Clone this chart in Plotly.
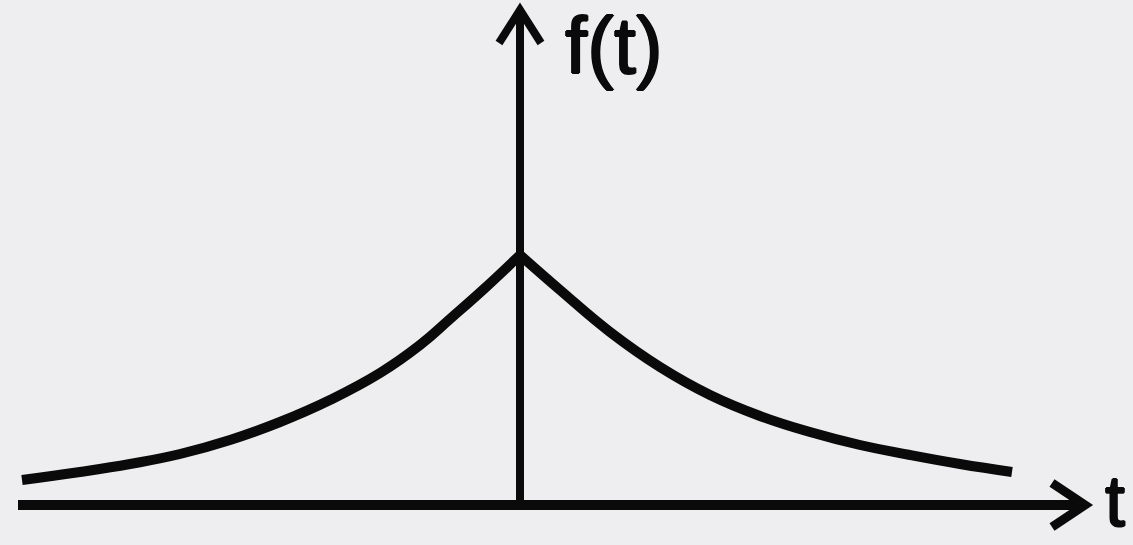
import plotly.graph_objects as go

# Data (t in arbitrary units, f(t) in arbitrary units)
t_left = [-4.98, -4.4, -3.9, -3.4, -2.9, -2.4, -1.9, -1.4, -1.0, -0.7, -0.35, 0.0]
f_left = [0.25, 0.33, 0.41, 0.51, 0.65, 0.83, 1.05, 1.32, 1.60, 1.86, 2.17, 2.50]
t_right = [0.0, 0.4, 0.9, 1.4, 1.9, 2.4, 2.9, 3.4, 3.9, 4.4, 4.92]
f_right = [2.50, 2.15, 1.73, 1.38, 1.10, 0.89, 0.73, 0.60, 0.50, 0.41, 0.33]

x_label = "t"
y_label = "f(t)"

BG = "#eeeef0"
INK = "#0a0a0a"
FONT = "Liberation Sans, Arial, sans-serif"
THICK = "0.9px 0 0 #0a0a0a, -0.9px 0 0 #0a0a0a, 0 0.9px 0 #0a0a0a, 0 -0.9px 0 #0a0a0a"

fig = go.Figure()
for tt, ff in ((t_left, f_left), (t_right, f_right)):
    fig.add_trace(go.Scatter(x=tt, y=ff, mode="lines",
                             line=dict(color=INK, width=10, shape="spline", smoothing=1.3,
                                       simplify=False),
                             hoverinfo="skip", showlegend=False))

# axis extents
x_start, x_tip = -5.02, 5.65
y_tip = 4.95
head_len_x, head_half_x = 0.33, 0.22
head_len_y, head_half_y = 0.33, 0.21

shapes = [
    dict(type="line", x0=x_start, y0=0, x1=x_tip - 0.03, y1=0, xref="x", yref="y",
         line=dict(color=INK, width=10)),
    dict(type="line", x0=0, y0=0, x1=0, y1=y_tip - 0.03, xref="x", yref="y",
         line=dict(color=INK, width=8)),
    dict(type="path", xref="x", yref="y",
         path=f"M {x_tip-head_len_x},{head_half_x} L {x_tip},0 L {x_tip-head_len_x},{-head_half_x}",
         line=dict(color=INK, width=9)),
    dict(type="path", xref="x", yref="y",
         path=f"M {-head_half_y},{y_tip-head_len_y} L 0,{y_tip} L {head_half_y},{y_tip-head_len_y}",
         line=dict(color=INK, width=8)),
]

annotations = [
    dict(x=0.43, y=4.6, xref="x", yref="y", text=y_label, showarrow=False,
         xanchor="left", yanchor="middle",
         font=dict(family=FONT, size=80, color=INK, shadow=THICK)),
    dict(x=5.95, y=0.04, xref="x", yref="y", text=x_label, showarrow=False,
         xanchor="center", yanchor="middle",
         font=dict(family=FONT, size=72, color=INK, shadow=THICK)),
]

fig.update_layout(
    width=1133, height=545,
    margin=dict(l=0, r=0, t=0, b=0),
    paper_bgcolor=BG, plot_bgcolor=BG,
    xaxis=dict(range=[-5.2, 6.13], visible=False, fixedrange=True),
    yaxis=dict(range=[-0.4, 5.05], visible=False, fixedrange=True),
    shapes=shapes, annotations=annotations,
)

fig.write_html("out.html", config={"displayModeBar": False},
               post_script="document.body.style.margin='0';document.body.style.overflow='hidden';")
